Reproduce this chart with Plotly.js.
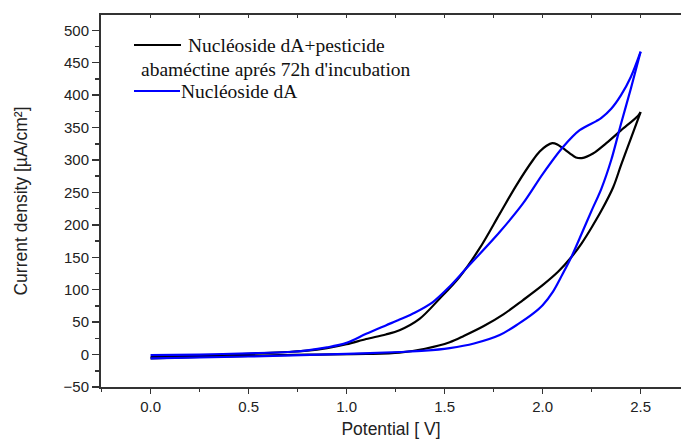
<!DOCTYPE html>
<html>
<head>
<meta charset="utf-8">
<script src="https://cdn.plot.ly/plotly-3.0.1.min.js"></script>
<style>html,body{margin:0;padding:0;background:#fff;overflow:hidden}#chart{width:681px;height:441px}</style>
</head>
<body>
<div id="chart"></div>
<script>
// Potential [V] / current density [µA/cm²].
// Nucléoside dA + pesticide: forward sweep and return sweep
const pestFwdX = [0, 0.25, 0.5, 0.7, 0.8, 0.9, 1.0, 1.1, 1.2, 1.27, 1.372, 1.474, 1.577, 1.679, 1.781, 1.866, 1.951, 1.985, 2.02, 2.049, 2.075, 2.1, 2.14, 2.17, 2.2, 2.257, 2.325, 2.401, 2.486, 2.5];
const pestFwdY = [-4, -1.5, 1, 4, 6, 10, 16, 24, 31, 37.5, 55, 86, 120, 164, 217, 261, 300, 313, 322, 326, 324, 319, 310, 304, 303, 310, 326, 346, 368, 374];
const pestRevX = [2.5, 2.45, 2.40, 2.36, 2.30, 2.25, 2.20, 2.146, 2.08, 2.0, 1.9, 1.8, 1.7, 1.6, 1.526, 1.4, 1.27, 1.1, 0.8, 0.5, 0.25, 0];
const pestRevY = [374, 333, 292, 258, 222, 196, 172, 150, 128, 107, 84, 62, 44, 29, 19, 9, 3, 1, 0, -2, -3.5, -6];

// Nucléoside dA: forward sweep and return sweep
const dAFwdX = [0, 0.25, 0.5, 0.7, 0.8, 0.9, 1.0, 1.1, 1.2, 1.27, 1.35, 1.44, 1.526, 1.611, 1.781, 1.9, 2.002, 2.104, 2.189, 2.274, 2.30, 2.35, 2.40, 2.45, 2.5];
const dAFwdY = [-1, 0, 2, 4, 6.5, 11, 18, 32, 45, 54, 65, 81, 105, 133, 189, 233, 279, 320, 346, 360, 365, 379, 400, 428, 467];
const dARevX = [2.5, 2.45, 2.40, 2.35, 2.30, 2.25, 2.20, 2.146, 2.10, 2.053, 2.0, 1.951, 1.88, 1.781, 1.65, 1.526, 1.4, 1.27, 1.0, 0.5, 0];
const dARevY = [467, 410, 356, 300, 256, 222, 187, 150, 123, 97, 76, 63, 48, 30, 17, 10, 6, 4, 1, -3, -6];

const seriesNames = ["Nucléoside dA+pesticide", "abaméctine aprés 72h d'incubation", "Nucléoside dA"];
const seriesColors = ["#000000", "#0000ff"];

const L = 101, T = 15, W = 681, H = 441, B = 54;
const plotW = W - L, plotH = H - T - B;
const px = v => (v - L) / plotW;
const py = v => (H - B - v) / plotH;

const lineStyle = c => ({color: c, width: 2.2, shape: 'spline', smoothing: 0.9});
const traces = [
  {x: pestFwdX, y: pestFwdY, type: 'scatter', mode: 'lines', name: seriesNames[0], line: lineStyle(seriesColors[0])},
  {x: pestRevX, y: pestRevY, type: 'scatter', mode: 'lines', name: seriesNames[0], line: lineStyle(seriesColors[0])},
  {x: dAFwdX, y: dAFwdY, type: 'scatter', mode: 'lines', name: seriesNames[2], line: lineStyle(seriesColors[1])},
  {x: dARevX, y: dARevY, type: 'scatter', mode: 'lines', name: seriesNames[2], line: lineStyle(seriesColors[1])},
  {x: [], y: [], xaxis: 'x2', yaxis: 'y', type: 'scatter', mode: 'lines', showlegend: false, hoverinfo: 'skip'}
];

const axisColor = '#333333';
const tickFont = {family: 'Liberation Sans, Arial, sans-serif', size: 15, color: '#222'};
const titleFont = {family: 'Liberation Sans, Arial, sans-serif', size: 17.5, color: '#222'};
const legFont = {family: 'Liberation Serif, Times New Roman, serif', size: 19.5, color: '#111'};

const layout = {
  width: W, height: H,
  margin: {l: L, r: 0, t: T, b: B, pad: 0},
  paper_bgcolor: '#fff', plot_bgcolor: '#fff',
  showlegend: false,
  xaxis: {
    range: [-0.253, 2.706], dtick: 0.5, tick0: 0, tickformat: '.1f',
    showgrid: false, zeroline: false,
    showline: true, linecolor: axisColor, linewidth: 2,
    ticks: 'outside', ticklen: 5, tickwidth: 1.5, tickcolor: axisColor,
    minor: {dtick: 0.25, tick0: 0, ticks: 'outside', ticklen: 3, tickcolor: axisColor, tickwidth: 1.5, showgrid: false},
    tickfont: tickFont,
    title: {text: 'Potential [ V]', font: titleFont, standoff: 9}
  },
  xaxis2: {
    overlaying: 'x', side: 'top', matches: 'x', range: [-0.253, 2.706],
    dtick: 0.25, tick0: 0, showticklabels: false, showgrid: false, zeroline: false,
    showline: true, linecolor: axisColor, linewidth: 2,
    ticks: 'inside', ticklen: 3, tickwidth: 1.5, tickcolor: axisColor
  },
  yaxis: {
    range: [-50, 523.6], dtick: 50, tick0: 0,
    showgrid: false, zeroline: false,
    showline: true, linecolor: axisColor, linewidth: 2,
    ticks: 'outside', ticklen: 7, tickwidth: 1.5, tickcolor: axisColor,
    minor: {dtick: 25, tick0: 0, ticks: 'outside', ticklen: 4, tickcolor: axisColor, tickwidth: 1.5, showgrid: false},
    tickfont: tickFont,
    title: {text: 'Current density [µA/cm²]', font: titleFont, standoff: 31}
  },
  shapes: [
    {type: 'line', xref: 'paper', yref: 'paper', x0: px(134), x1: px(181), y0: py(45), y1: py(45), line: {color: seriesColors[0], width: 2}},
    {type: 'line', xref: 'paper', yref: 'paper', x0: px(134), x1: px(180), y0: py(91), y1: py(91), line: {color: seriesColors[1], width: 2}}
  ],
  annotations: [
    {xref: 'paper', yref: 'paper', x: px(186), y: py(45), xanchor: 'left', yanchor: 'middle', text: seriesNames[0], showarrow: false, font: legFont},
    {xref: 'paper', yref: 'paper', x: px(139), y: py(69), xanchor: 'left', yanchor: 'middle', text: seriesNames[1], showarrow: false, font: legFont},
    {xref: 'paper', yref: 'paper', x: px(179), y: py(91), xanchor: 'left', yanchor: 'middle', text: seriesNames[2], showarrow: false, font: legFont}
  ]
};

Plotly.newPlot('chart', traces, layout, {displayModeBar: false, staticPlot: true});
</script>
</body>
</html>
